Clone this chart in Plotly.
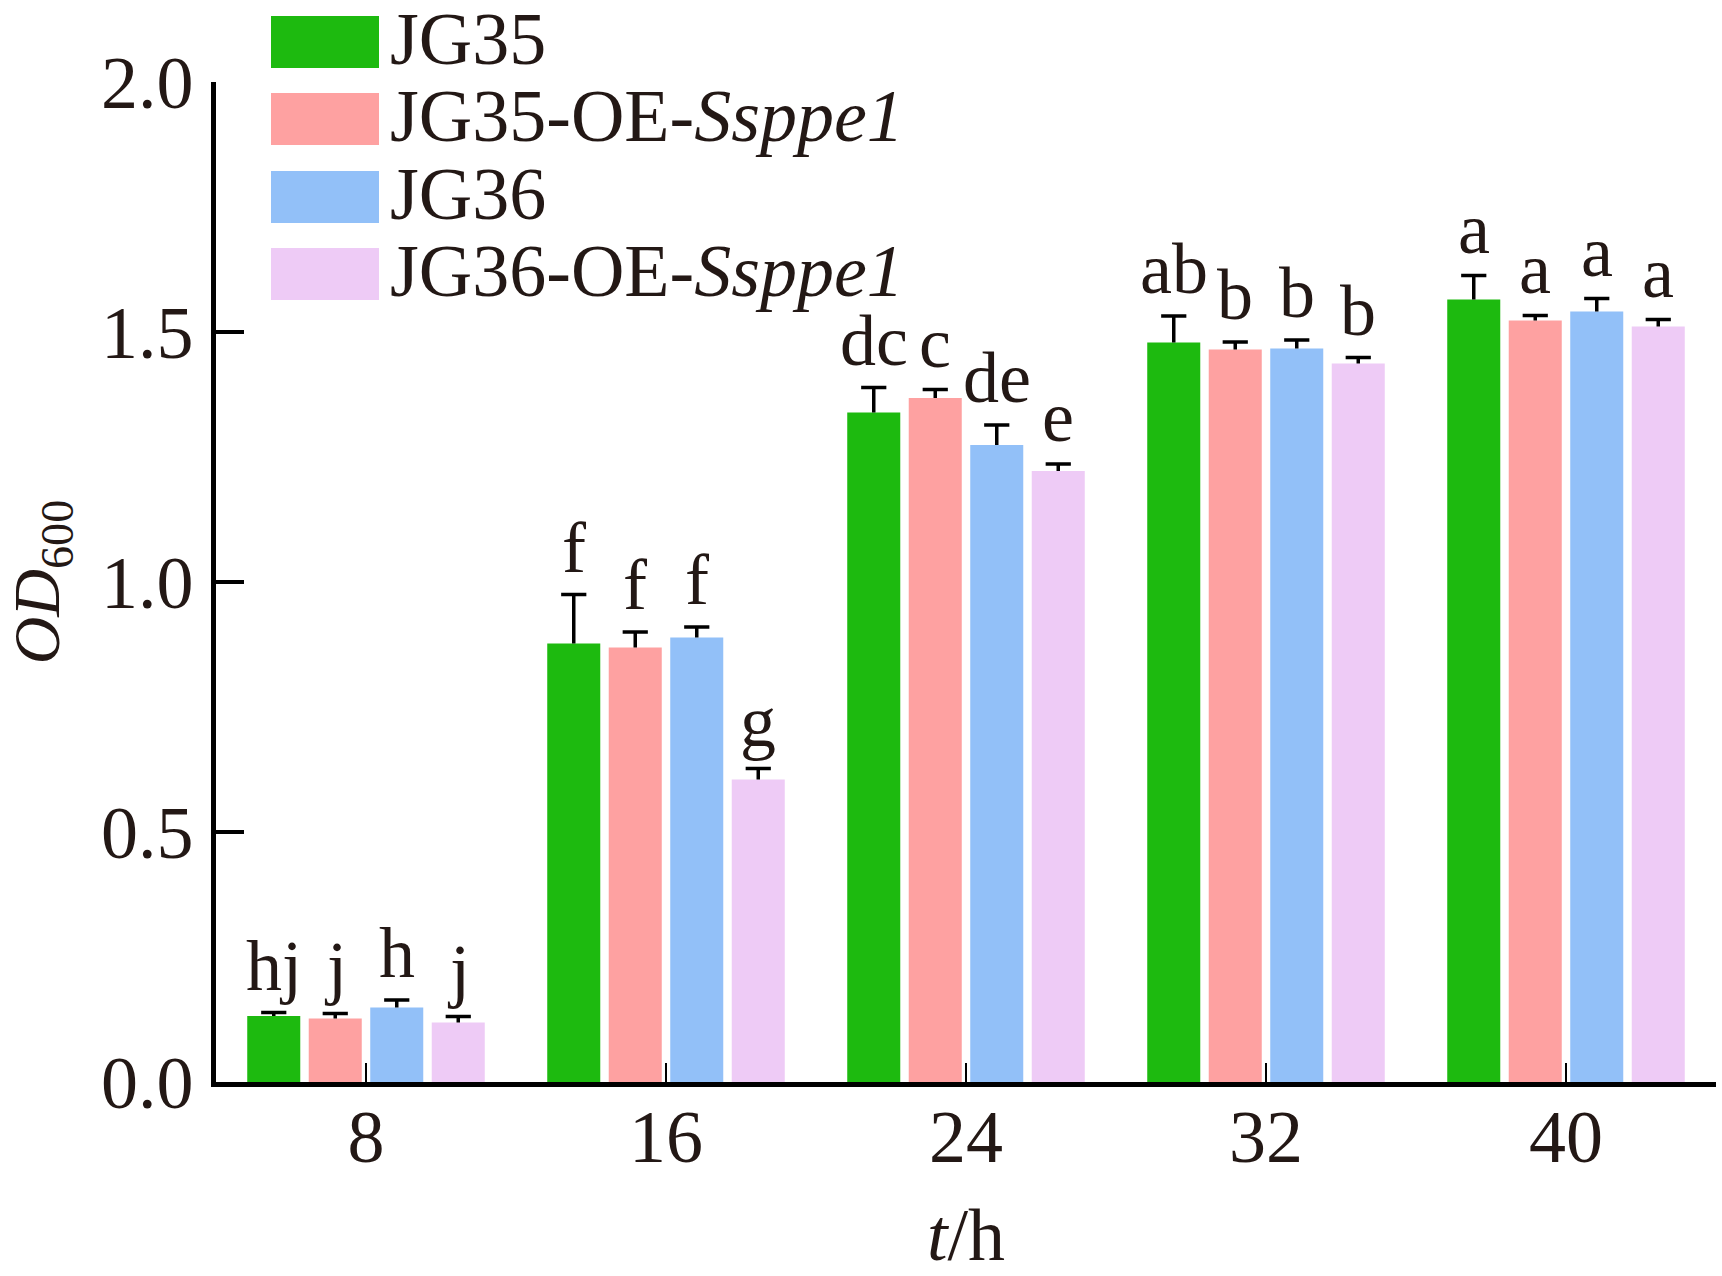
import plotly.graph_objects as go

# data
hours = ['8', '16', '24', '32', '40']
strains = ['JG35', 'JG35-OE-<i>Ssppe1</i>', 'JG36', 'JG36-OE-<i>Ssppe1</i>']
colors = ['#1dba0f', '#fea1a1', '#92c0f8', '#eecbf6']

od_jg35 = [0.132, 0.877, 1.339, 1.479, 1.565]
od_jg35_oe = [0.127, 0.869, 1.368, 1.465, 1.523]
od_jg36 = [0.149, 0.889, 1.274, 1.467, 1.541]
od_jg36_oe = [0.119, 0.605, 1.222, 1.437, 1.511]

sd_jg35 = [0.007, 0.098, 0.050, 0.053, 0.048]
sd_jg35_oe = [0.010, 0.031, 0.017, 0.015, 0.010]
sd_jg36 = [0.015, 0.021, 0.040, 0.017, 0.026]
sd_jg36_oe = [0.012, 0.022, 0.014, 0.012, 0.014]

letters_jg35 = ['hj', 'f', 'dc', 'ab', 'a']
letters_jg35_oe = ['j', 'f', 'c', 'b', 'a']
letters_jg36 = ['h', 'f', 'de', 'b', 'a']
letters_jg36_oe = ['j', 'g', 'e', 'b', 'a']

values = [od_jg35, od_jg35_oe, od_jg36, od_jg36_oe]
errors = [sd_jg35, sd_jg35_oe, sd_jg36, sd_jg36_oe]
letters = [letters_jg35, letters_jg35_oe, letters_jg36, letters_jg36_oe]

FONT = 'Liberation Serif, Times New Roman, serif'
INK = '#231815'
W, H = 1722, 1276
ML, MR, MT, MB = 216, 6, 82, 194

bargap = 0.18
bargroupgap = 0.138
slot = (1 - bargap) / len(strains)
cap = 0.042  # half width of error bar caps, in x units

x_idx = list(range(len(hours)))

fig = go.Figure()

for k, name in enumerate(strains):
    off = (k - (len(strains) - 1) / 2) * slot
    fig.add_trace(go.Bar(
        x=x_idx,
        y=values[k],
        name=name,
        marker=dict(color=colors[k], line=dict(width=0)),
        showlegend=False
    ))

    # upper error bars only (stem + cap)
    ex, ey = [], []
    for i, (v, e) in enumerate(zip(values[k], errors[k])):
        xc = i + off
        ex += [xc, xc, None, xc - cap, xc + cap, None]
        ey += [v, v + e, None, v + e, v + e, None]
    fig.add_trace(go.Scatter(
        x=ex, y=ey, mode='lines',
        line=dict(color='black', width=3.5),
        hoverinfo='skip', showlegend=False
    ))

    # significance letters
    for i, (v, e) in enumerate(zip(values[k], errors[k])):
        fig.add_annotation(
            x=i + off, y=v + e, text=letters[k][i],
            showarrow=False, yanchor='bottom', yshift=5,
            font=dict(family=FONT, size=72, color=INK)
        )

# legend drawn by hand to get the large swatches
plot_w = W - ML - MR
plot_h = H - MT - MB
row_tops = [16, 93, 171, 248]
for k, name in enumerate(strains):
    top = row_tops[k]
    fig.add_shape(
        type='rect', xref='paper', yref='paper',
        x0=(271 - ML) / plot_w, x1=(379 - ML) / plot_w,
        y0=(H - MB - top - 52) / plot_h, y1=(H - MB - top) / plot_h,
        fillcolor=colors[k], line=dict(width=0)
    )
    fig.add_annotation(
        xref='paper', yref='paper',
        x=(388 - ML) / plot_w, y=(H - MB - top - 26) / plot_h,
        text=name, showarrow=False, xanchor='left', yanchor='middle',
        yshift=3, font=dict(family=FONT, size=74, color=INK)
    )

fig.update_layout(
    width=W, height=H,
    margin=dict(l=ML, r=MR, t=MT, b=MB, pad=0, autoexpand=False),
    barmode='group', bargap=bargap, bargroupgap=bargroupgap,
    plot_bgcolor='white', paper_bgcolor='white',
    font=dict(family=FONT, size=74, color=INK),
    showlegend=False
)

fig.update_xaxes(
    range=[-0.5, len(hours) - 0.5],
    tickvals=x_idx, ticktext=hours,
    showline=True, linecolor='black', linewidth=5,
    ticks='inside', ticklen=19, tickwidth=2, tickcolor='black',
    ticklabelstandoff=-14,
    showgrid=False, zeroline=False, automargin=False,
    title=dict(text='<i>t</i>/h', standoff=34, font=dict(size=74)),
    tickfont=dict(size=74)
)

fig.update_yaxes(
    range=[0, 2.0],
    tickvals=[0, 0.5, 1.0, 1.5, 2.0], tickformat='.1f',
    showline=True, linecolor='black', linewidth=4.5,
    ticks='inside', ticklen=28, tickwidth=3.5, tickcolor='black',
    ticklabelstandoff=3,
    showgrid=False, zeroline=False, automargin=False,
    title=dict(text='<i>OD</i><sub>600</sub>', standoff=31, font=dict(size=66)),
    tickfont=dict(size=74)
)

# the page body has a default 8px margin; remove it so the figure starts at the corner
fig.write_html('out.html', config={'displayModeBar': False},
               post_script="document.body.style.margin='0';")
